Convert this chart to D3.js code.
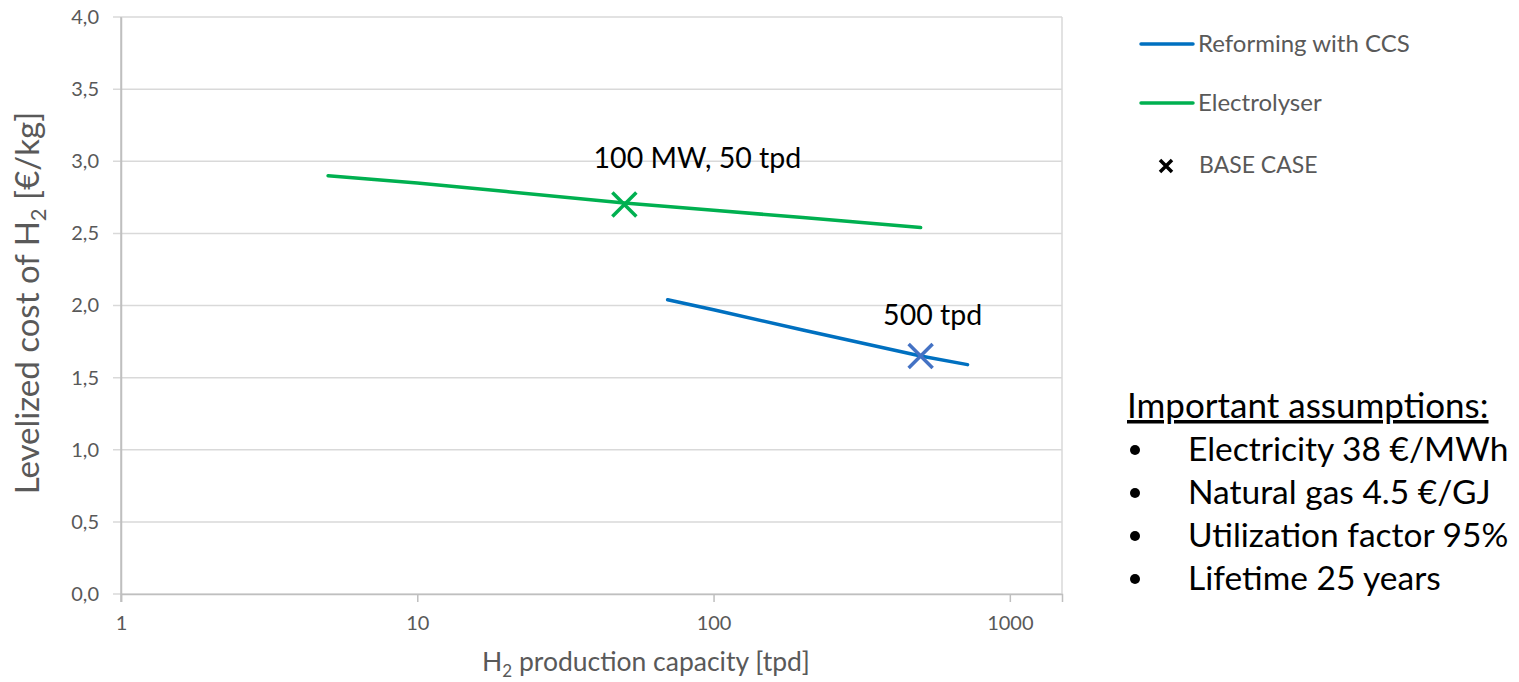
<!DOCTYPE html>
<html>
<head>
<meta charset="utf-8">
<script src="https://cdn.jsdelivr.net/npm/d3@7"></script>
<style>
  html, body { margin: 0; padding: 0; background: #fff; }
  svg { display: block; font-family: Lato, "Open Sans", sans-serif; }
</style>
</head>
<body>
<svg id="chart" width="1519" height="682"></svg>
<script>
// ---- data ----
const reformingCapacity = [70, 100, 200, 500, 720];
const reformingCost     = [2.04, 1.97, 1.83, 1.65, 1.59];
const electrolyserCapacity = [5, 10, 20, 50, 100, 200, 500];
const electrolyserCost     = [2.90, 2.85, 2.79, 2.71, 2.66, 2.61, 2.54];
const baseCaseNames    = ["Electrolyser", "Reforming with CCS"];
const baseCaseCapacity = [50, 500];
const baseCaseCost     = [2.70, 1.65];
const baseCaseLabels   = ["100 MW, 50 tpd", "500 tpd"];
const xTickValues = [1, 10, 100, 1000];
const yTickValues = [0, 0.5, 1.0, 1.5, 2.0, 2.5, 3.0, 3.5, 4.0];
const assumptions = ["Electricity 38 €/MWh", "Natural gas 4.5 €/GJ", "Utilization factor 95%", "Lifetime 25 years"];

// ---- styles ----
const colors = { "Reforming with CCS": "#0070C0", "Electrolyser": "#00B050" };
const markerColors = { "Reforming with CCS": "#4472C4", "Electrolyser": "#00B050" };
const labelOffsets = [[73, -37], [12, -31]];
const grid = "#D9D9D9", axisCol = "#BFBFBF", textCol = "#595959";

const svg = d3.select("#chart");
const pL = 121, pR = 1062, pT = 17, pB = 594;

const x = d3.scaleLog().domain([1, 1500]).range([pL, pR]);
const y = d3.scaleLinear().domain([0, 4]).range([pB, pT]);

// gridlines
svg.append("g").selectAll("line").data(yTickValues).join("line")
  .attr("x1", pL - 8).attr("x2", pR)
  .attr("y1", d => y(d)).attr("y2", d => y(d))
  .attr("stroke", grid).attr("stroke-width", 1.5);
// right border
svg.append("line").attr("x1", pR).attr("x2", pR).attr("y1", pT).attr("y2", pB)
  .attr("stroke", grid).attr("stroke-width", 1.5);

// y axis
const yAxis = svg.append("g").attr("transform", `translate(${pL},0)`)
  .call(d3.axisLeft(y).tickValues(yTickValues).tickSize(0).tickPadding(22)
    .tickFormat(d => d3.format(".1f")(d).replace(".", ",")));
yAxis.select(".domain").attr("stroke", axisCol).attr("stroke-width", 1.5);
yAxis.selectAll("text").attr("fill", textCol).attr("font-size", 20).attr("font-family", "Lato");

// x axis
const xAxis = svg.append("g").attr("transform", `translate(0,${pB})`)
  .call(d3.axisBottom(x).tickValues(xTickValues).tickSize(8).tickPadding(14)
    .tickFormat(d3.format("d")));
xAxis.select(".domain").attr("stroke", axisCol).attr("stroke-width", 1.5);
xAxis.selectAll(".tick line").attr("stroke", axisCol).attr("stroke-width", 1.5);
xAxis.selectAll("text").attr("fill", textCol).attr("font-size", 20).attr("font-family", "Lato");
// left axis line
svg.append("line").attr("x1", pL).attr("x2", pL).attr("y1", pT).attr("y2", pB + 8)
  .attr("stroke", axisCol).attr("stroke-width", 1.5);

// axis titles
const yt = svg.append("text").attr("transform", `translate(39,303) rotate(-90)`)
  .attr("text-anchor", "middle").attr("fill", textCol).attr("font-size", 33);
yt.append("tspan").text("Levelized cost of H");
yt.append("tspan").attr("font-size", 22).attr("dy", 7).text("2");
yt.append("tspan").attr("dy", -7).text(" [€/kg]");

const xt = svg.append("text").attr("x", 646).attr("y", 671)
  .attr("text-anchor", "middle").attr("fill", textCol).attr("font-size", 26.5);
xt.append("tspan").text("H");
xt.append("tspan").attr("font-size", 17).attr("dy", 6).text("2");
xt.append("tspan").attr("dy", -6).text(" production capacity [tpd]");

// lines
const line = d3.line().x(d => x(d[0])).y(d => y(d[1]));
const series = [
  { name: "Reforming with CCS", pts: d3.zip(reformingCapacity, reformingCost) },
  { name: "Electrolyser", pts: d3.zip(electrolyserCapacity, electrolyserCost) }
];
svg.append("g").selectAll("path").data(series).join("path")
  .attr("d", d => line(d.pts)).attr("fill", "none")
  .attr("stroke", d => colors[d.name]).attr("stroke-width", 3.5).attr("stroke-linecap", "round");

// base case markers
const m = 12;
const bc = svg.append("g").selectAll("g").data(d3.range(baseCaseNames.length)).join("g")
  .attr("transform", i => `translate(${x(baseCaseCapacity[i])},${y(baseCaseCost[i])})`);
bc.append("path").attr("d", `M${-m},${-m}L${m},${m}M${-m},${m}L${m},${-m}`)
  .attr("stroke", i => markerColors[baseCaseNames[i]]).attr("stroke-width", 3.5);
bc.append("text").attr("x", i => labelOffsets[i][0]).attr("y", i => labelOffsets[i][1])
  .attr("text-anchor", "middle")
  .attr("font-size", 28.5).attr("fill", "#000").text(i => baseCaseLabels[i]);

// legend
const lg = svg.append("g");
const legendItems = ["Reforming with CCS", "Electrolyser"];
legendItems.forEach((name, i) => {
  const ly = 44 + i * 59;
  lg.append("line").attr("x1", 1141).attr("x2", 1193).attr("y1", ly).attr("y2", ly)
    .attr("stroke", colors[name]).attr("stroke-width", 3.5).attr("stroke-linecap", "round");
  lg.append("text").attr("x", 1198).attr("y", ly + 8).attr("font-size", 24)
    .attr("fill", textCol).text(name);
});
lg.append("path").attr("transform", "translate(1166,166)")
  .attr("d", "M-6,-6L6,6M-6,6L6,-6").attr("stroke", "#000").attr("stroke-width", 3.5);
lg.append("text").attr("x", 1199).attr("y", 173).attr("font-size", 23)
  .attr("fill", textCol).text("BASE CASE");

// assumptions
svg.append("text").attr("x", 1127).attr("y", 418).attr("font-size", 35)
  .attr("fill", "#000").attr("text-decoration", "underline").text("Important assumptions:");
const as = svg.append("g").selectAll("g").data(assumptions).join("g")
  .attr("transform", (d, i) => `translate(0,${461 + i * 43})`);
as.append("circle").attr("cx", 1135).attr("cy", -11).attr("r", 5).attr("fill", "#000");
as.append("text").attr("x", 1188).attr("y", 0).attr("font-size", 33.5).attr("fill", "#000").text(d => d);
</script>
</body>
</html>
